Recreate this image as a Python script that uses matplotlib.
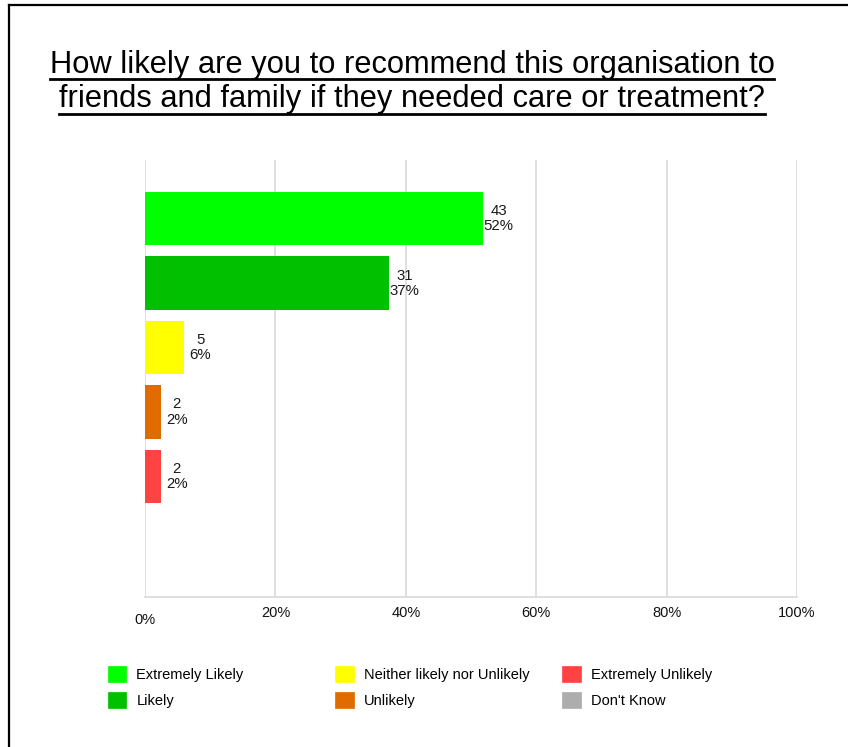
import matplotlib
matplotlib.use("Agg")
import matplotlib.pyplot as plt
from matplotlib.patches import Patch
from matplotlib.lines import Line2D
import matplotlib.transforms as mtransforms

plt.rcParams['font.family'] = ['Liberation Sans', 'DejaVu Sans']

# ---- data ----
categories = ["Extremely Likely", "Likely", "Neither likely nor Unlikely",
              "Unlikely", "Extremely Unlikely", "Don't Know"]
counts = [43, 31, 5, 2, 2, 0]
colors = ["#00FF00", "#00C000", "#FFFF00", "#E06C00", "#FF4242", "#ADADAD"]
xticks = [0, 20, 40, 60, 80, 100]
xtick_labels = ["0%", "20%", "40%", "60%", "80%", "100%"]
title_lines = ["How likely are you to recommend this organisation to",
               "friends and family if they needed care or treatment?"]

total = sum(counts)
pcts = [c / total * 100 for c in counts]

W, H = 848, 747
fig = plt.figure(figsize=(W / 100, H / 100), dpi=100)
fig.patch.set_facecolor("white")

def fx(px):
    return px / W

def fy(py):
    return 1 - py / H

ax = fig.add_axes([fx(145), fy(597), fx(797) - fx(145), fy(160) - fy(597)])
ypos = list(range(len(categories)))
ax.barh(ypos, pcts, height=0.83, color=colors, edgecolor="none", zorder=3)
ax.set_xlim(0, 100)
ax.set_ylim(5.87, -0.91)
ax.set_yticks([])
ax.set_xticks(xticks)
ax.set_xticklabels(xtick_labels, fontsize=10.5, color="#111111")
ax.tick_params(axis="x", length=0, pad=6.5)
ax.grid(axis="x", color="#D9D9D9", linewidth=1.2, zorder=0)
for s in ["top", "right", "left"]:
    ax.spines[s].set_visible(False)
ax.spines["bottom"].set_color("#D9D9D9")
ax.spines["bottom"].set_linewidth(1.2)

# shift the "0%" label slightly lower as in the reference
lab0 = ax.get_xticklabels()[0]
lab0.set_transform(lab0.get_transform() +
                   mtransforms.ScaledTranslation(0, -5 / 72, fig.dpi_scale_trans))

for y, c, p in zip(ypos, counts, pcts):
    if c > 0:
        ax.annotate(f"{c}\n{p:.0f}%", xy=(p, y), xytext=(11.5, 0),
                    textcoords="offset points", ha="center", va="center",
                    multialignment="center", fontsize=10.8, color="#1a1a1a",
                    linespacing=1.1)

# ---- title with underline ----
title_texts = []
for i, (line, base) in enumerate(zip(title_lines, [73, 107])):
    t = fig.text(fx(412), fy(base), line, ha="center", va="baseline",
                 fontsize=22.2, color="black")
    title_texts.append(t)

# ---- legend (three columns) ----
leg_cols = [[0, 1], [2, 3], [4, 5]]
leg_x = [103.5, 331, 558]
for col, x0 in zip(leg_cols, leg_x):
    handles = [Patch(facecolor=colors[i], edgecolor=colors[i], linewidth=0.5,
                     label=categories[i]) for i in col]
    fig.legend(handles=handles, loc="upper left",
               bbox_to_anchor=(fx(x0), fy(662)), frameon=False,
               fontsize=10.5, handlelength=1.25, handleheight=1.3,
               handletextpad=0.7, labelspacing=0.65, borderpad=0.3,
               borderaxespad=0)

# ---- outer frame (left and top edges visible) ----
fig.add_artist(Line2D([fx(9), fx(9)], [fy(5), 0], color="black", linewidth=1.6,
                      transform=fig.transFigure))
fig.add_artist(Line2D([fx(9), 1], [fy(5), fy(5)], color="black", linewidth=1.6,
                      transform=fig.transFigure))

fig.canvas.draw()
renderer = fig.canvas.get_renderer()
for t, uy in zip(title_texts, [79, 114]):
    bb = t.get_window_extent(renderer)
    x0, x1 = bb.x0 / W, bb.x1 / W
    fig.add_artist(Line2D([x0, x1], [fy(uy), fy(uy)], color="black",
                          linewidth=2.0, transform=fig.transFigure))

fig.savefig("out.png", dpi=100, facecolor="white")
